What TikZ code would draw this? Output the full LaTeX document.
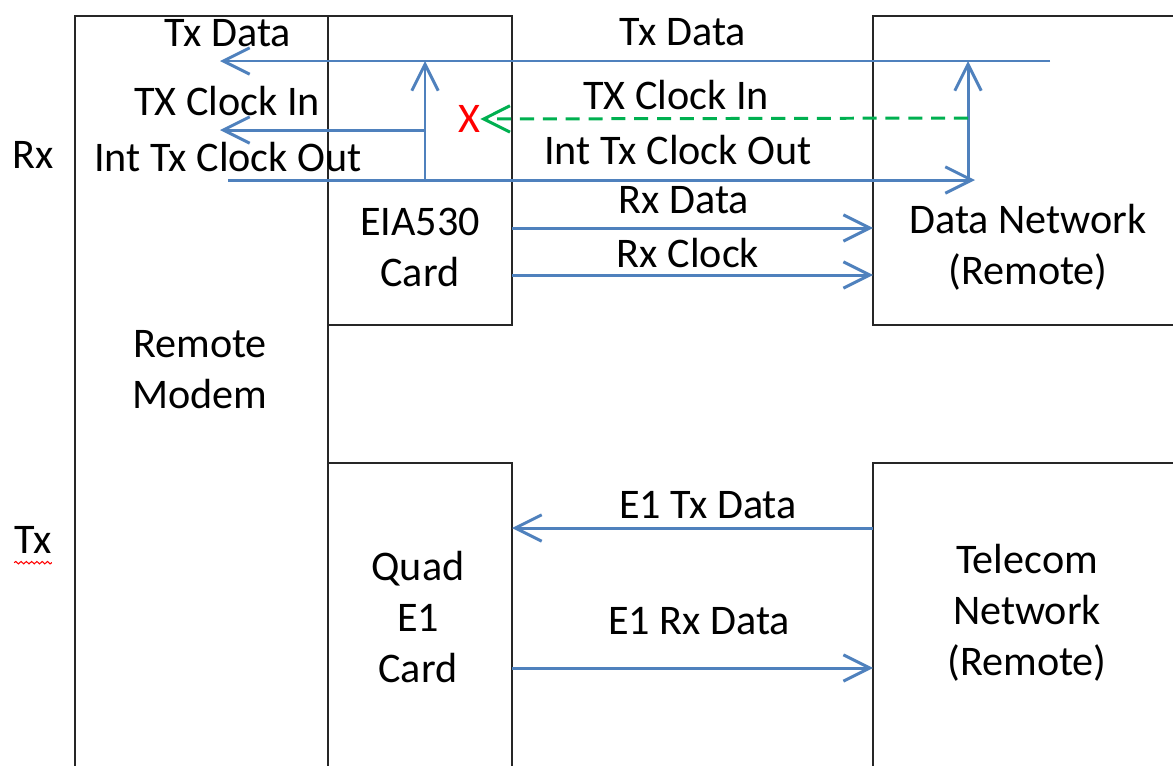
\documentclass[tikz,border=0pt]{standalone}
\usepackage{fontspec}
\setmainfont{Carlito}
\usetikzlibrary{arrows.meta, positioning, decorations.pathmorphing}
\usepackage{xcolor}
\definecolor{lineBlue}{HTML}{4F81BD}
\definecolor{clkGreen}{HTML}{00B050}
\definecolor{markRed}{HTML}{FF0000}
\tikzset{
    unit/.style={rectangle, draw=black!85, line width=1pt, inner sep=0pt, outer sep=0pt},
    lbl/.style={font=\fontsize{24}{29}\selectfont, align=center, inner sep=0pt},
    sig/.style={-{Straight Barb[length=15pt, width=15pt]}, line width=1.7pt, draw=lineBlue},
    clkdash/.style={-{Straight Barb[length=15pt, width=15pt]}, line width=1.7pt, draw=clkGreen, dash pattern=on 8pt off 5pt},
}
\begin{document}
\begin{tikzpicture}[x=0.02cm, y=-0.02cm]
    \useasboundingbox (0,0) rectangle (1173,765);

    % boxes
    \node[unit, minimum width=5.06cm, minimum height=15.68cm] (modem) at (201.5,408) {};
    \node[unit, minimum width=3.68cm, minimum height=6.18cm] (eia) at (420,170.5) {};
    \node[unit, minimum width=6.54cm, minimum height=6.18cm] (dnet) at (1036.5,170.5) {};
    \node[unit, minimum width=3.68cm, minimum height=6.74cm] (quad) at (420,631.5) {};
    \node[unit, minimum width=6.54cm, minimum height=6.74cm] (tnet) at (1036.5,631.5) {};

    % box texts
    \node[lbl] (modemtxt) at (200,370) {Remote\\Modem};
    \node[lbl] (eiatxt) at (420,247) {EIA530\\Card};
    \node[lbl] (dnettxt) at (1028,247) {Data Network\\(Remote)};
    \node[lbl] (quadtxt) at (418,617) {Quad\\E1\\Card};
    \node[lbl] (tnettxt) at (1027,613) {Telecom\\Network\\(Remote)};
    \node[lbl] (rx) at (33,155) {Rx};
    \node[lbl] (tx) at (33,540) {Tx};
    \draw[markRed, line width=0.6pt, decorate, decoration={snake, amplitude=0.7pt, segment length=3pt}]
        ([yshift=-5pt]tx.south west) -- ([yshift=-5pt]tx.south east);

    % clock and data junctions
    \coordinate (txsrc) at (1050,61);
    \coordinate (txdst) at (220,61);
    \coordinate (clkdst) at (220,130);
    \coordinate (intsrc) at (228,180);
    \coordinate (intdst) at (975,180);
    \coordinate (jLtop) at (425,61);
    \coordinate (jLmid) at (425,130);
    \coordinate (jLbot) at (425,180);
    \coordinate (jRtop) at (968,61);
    \coordinate (jRmid) at (968,118);
    \coordinate (jRbot) at (968,180);

    \draw[sig] (txsrc) -- (txdst);
    \draw[sig] (intsrc) -- (intdst);
    \draw[sig] (jLbot) -- (jLtop);
    \draw[sig] (jLmid) -- (clkdst);
    \draw[sig] (jRbot) -- (jRtop);

    \node[lbl, text=markRed] (cut) at (469,119) {X};
    \draw[clkdash] (jRmid) -- (cut.east);

    \node[lbl] (l1) at (228,33) {Tx Data};
    \node[lbl] (l2) at (683,32) {Tx Data};
    \node[lbl] (l3) at (227,101) {TX Clock In};
    \node[lbl] (l4) at (676,95) {TX Clock In};
    \node[lbl] (l5) at (228,157) {Int Tx Clock Out};
    \node[lbl] (l6) at (678,150) {Int Tx Clock Out};

    % receive side
    \draw[sig] (eia.east |- 0,228) -- (dnet.west |- 0,228);
    \draw[sig] (eia.east |- 0,275) -- (dnet.west |- 0,275);
    \node[lbl] (rxdata) at (684,200) {Rx Data};
    \node[lbl] (rxclk) at (688,253) {Rx Clock};

    % E1 side
    \draw[sig] (tnet.west |- 0,528) -- (quad.east |- 0,528);
    \draw[sig] (quad.east |- 0,668) -- (tnet.west |- 0,668);
    \node[lbl] (e1tx) at (708,505) {E1 Tx Data};
    \node[lbl] (e1rx) at (699,621) {E1 Rx Data};
\end{tikzpicture}
\end{document}
